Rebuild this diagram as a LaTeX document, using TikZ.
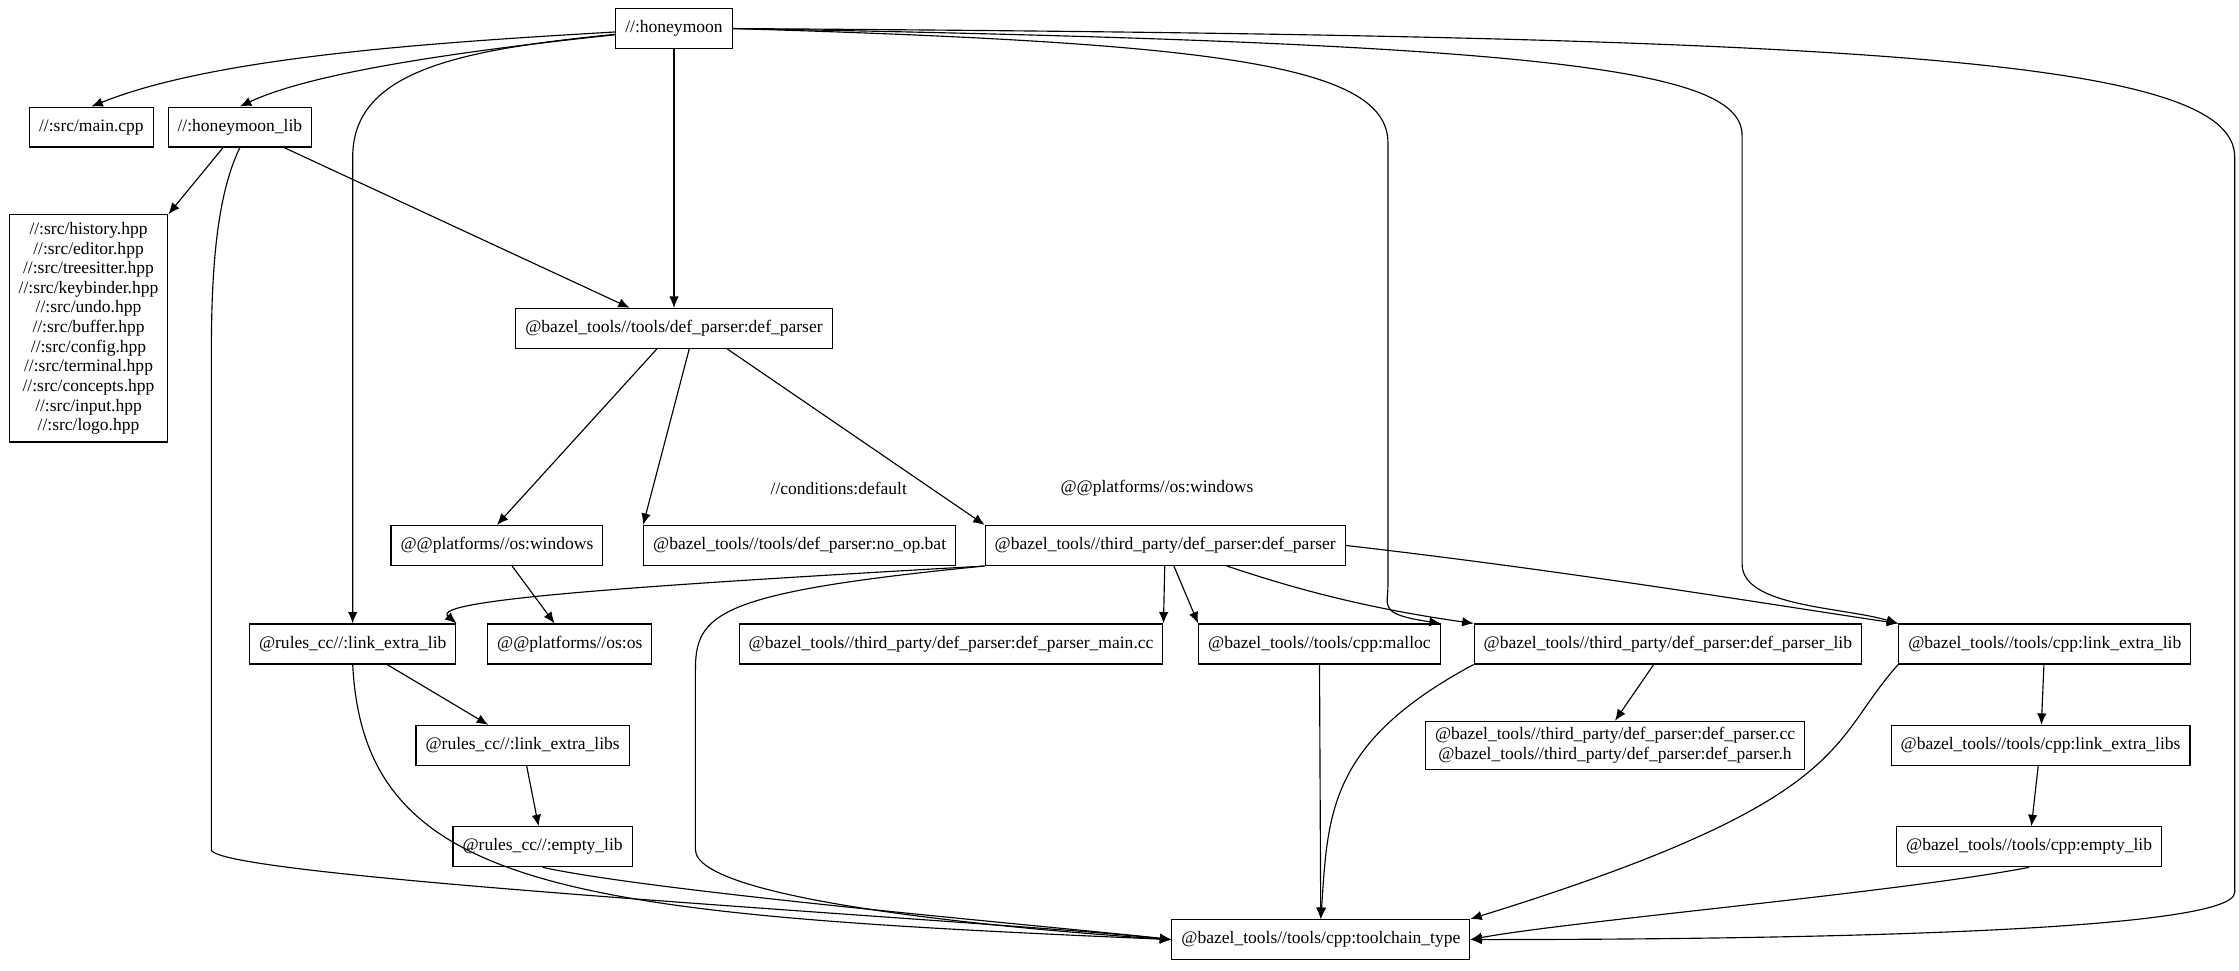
\documentclass[tikz,border=0pt]{standalone}
\usepackage{fontspec}
\setmainfont{Liberation Serif}
\usetikzlibrary{arrows.meta}
\tikzset{
    box/.style={draw, rectangle, line width=0.6pt, minimum height=21pt, inner xsep=5pt, font=\fontsize{9.2}{10.8}\selectfont},
    dep/.style={draw, line width=0.6pt, -{Latex[length=6pt,width=5pt]}},
    lbl/.style={font=\fontsize{9.2}{10.8}\selectfont, anchor=west},
}
\begin{document}
\begin{tikzpicture}[x=0.75pt, y=-0.75pt]
\useasboundingbox (0,0) rectangle (1568,680);

\node[box] (hm) at (472,20) {//:honeymoon};
\node[box] (main) at (64,89) {//:src/main.cpp};
\node[box] (lib) at (168,89) {//:honeymoon\_lib};
\node[box, align=center, inner ysep=4pt, font=\fontsize{9.2}{10.3}\selectfont] (hdrs) at (62,230) {//:src/history.hpp\\//:src/editor.hpp\\//:src/treesitter.hpp\\//:src/keybinder.hpp\\//:src/undo.hpp\\//:src/buffer.hpp\\//:src/config.hpp\\//:src/terminal.hpp\\//:src/concepts.hpp\\//:src/input.hpp\\//:src/logo.hpp};
\node[box] (dp) at (472,230) {@bazel\_tools//tools/def\_parser:def\_parser};

\node[box] (win) at (348,382) {@@platforms//os:windows};
\node[box] (noop) at (560,382) {@bazel\_tools//tools/def\_parser:no\_op.bat};
\node[box] (tp) at (816,382) {@bazel\_tools//third\_party/def\_parser:def\_parser};

\node[box] (rlel) at (247,451) {@rules\_cc//:link\_extra\_lib};
\node[box] (os) at (399,451) {@@platforms//os:os};
\node[box] (maincc) at (666,451) {@bazel\_tools//third\_party/def\_parser:def\_parser\_main.cc};
\node[box] (malloc) at (924,451) {@bazel\_tools//tools/cpp:malloc};
\node[box] (tplib) at (1168,451) {@bazel\_tools//third\_party/def\_parser:def\_parser\_lib};
\node[box] (cpplel) at (1432,451) {@bazel\_tools//tools/cpp:link\_extra\_lib};

\node[box] (rlels) at (366,522) {@rules\_cc//:link\_extra\_libs};
\node[box, align=center, inner ysep=3pt] (srcs) at (1131,522) {@bazel\_tools//third\_party/def\_parser:def\_parser.cc\\@bazel\_tools//third\_party/def\_parser:def\_parser.h};
\node[box] (cpplels) at (1429,522) {@bazel\_tools//tools/cpp:link\_extra\_libs};

\node[box] (empty) at (380,593) {@rules\_cc//:empty\_lib};
\node[box] (cppempty) at (1421,593) {@bazel\_tools//tools/cpp:empty\_lib};

\node[box] (tc) at (925,658) {@bazel\_tools//tools/cpp:toolchain\_type};

% from the top target
\draw[dep] (hm) .. controls (300,30) and (150,40) .. (main.north);
\draw[dep] (hm) .. controls (330,35) and (220,50) .. (lib.north);
\draw[dep] (hm) .. controls (320,35) and (247,50) .. (247,110) -- (rlel.north);
\draw[dep] (hm) -- (dp);
\draw[dep] (hm.east) .. controls (850,30) and (972,45) .. (972,100) -- (972,410) .. controls (972,425) and (965,430) .. (malloc.north east);
\draw[dep] (hm.east) .. controls (1100,30) and (1220,50) .. (1220,95) -- (1220,395) .. controls (1220,425) and (1290,425) .. (cpplel.north west);
\draw[dep] (hm.east) .. controls (1300,25) and (1565,40) .. (1565,110) -- (1565,625) .. controls (1565,655) and (1200,658) .. (tc.east);

% honeymoon_lib
\draw[dep] (lib) -- (hdrs.north east);
\draw[dep] (lib) -- (dp);
\draw[dep] (lib.south) .. controls (150,140) and (148,200) .. (148,250) -- (148,595) .. controls (148,615) and (700,645) .. (tc.west);

% def_parser
\draw[dep] ([xshift=-9pt]dp.south) -- (win.north);
\draw[dep] ([xshift=8pt]dp.south) -- (noop.north west);
\draw[dep] ([xshift=28pt]dp.south) -- (tp.north west);
\node[lbl] (lcond) at (535,342) {//conditions:default};
\node[lbl] (lwin) at (738,342) {@@platforms//os:windows};
\draw[dep] (win) -- (os);

% third_party def_parser
\draw[dep] (tp.south west) .. controls (450,410) and (300,420) .. (rlel.north east);
\draw[dep] (tp) -- (maincc.north east);
\draw[dep] (tp) -- (malloc.north west);
\draw[dep] (tp) .. controls (900,410) and (950,425) .. (tplib.north west);
\draw[dep] (tp.east) .. controls (1100,400) and (1250,425) .. (cpplel.north west);
\draw[dep] (tp.south west) .. controls (500,415) and (487,430) .. (487,470) -- (487,595) .. controls (487,630) and (700,650) .. (tc.west);

% rules_cc chain
\draw[dep] (rlel) -- (rlels);
\draw[dep] (rlel.south) .. controls (255,625) and (400,640) .. (tc.west);
\draw[dep] (rlels) -- (empty);
\draw[dep] (empty.south) .. controls (460,625) and (750,650) .. (tc.west);

% cpp chain
\draw[dep] (malloc) -- (tc);
\draw[dep] (tplib) -- (srcs.north);
\draw[dep] (tplib.south west) .. controls (930,520) and (930,570) .. (tc.north);
\draw[dep] (cpplel) -- (cpplels);
\draw[dep] (cpplel.south west) .. controls (1280,520) and (1300,560) .. (tc.north east);
\draw[dep] (cpplels) -- (cppempty);
\draw[dep] (cppempty.south) .. controls (1330,625) and (1100,645) .. (tc.east);

\end{tikzpicture}
\end{document}
